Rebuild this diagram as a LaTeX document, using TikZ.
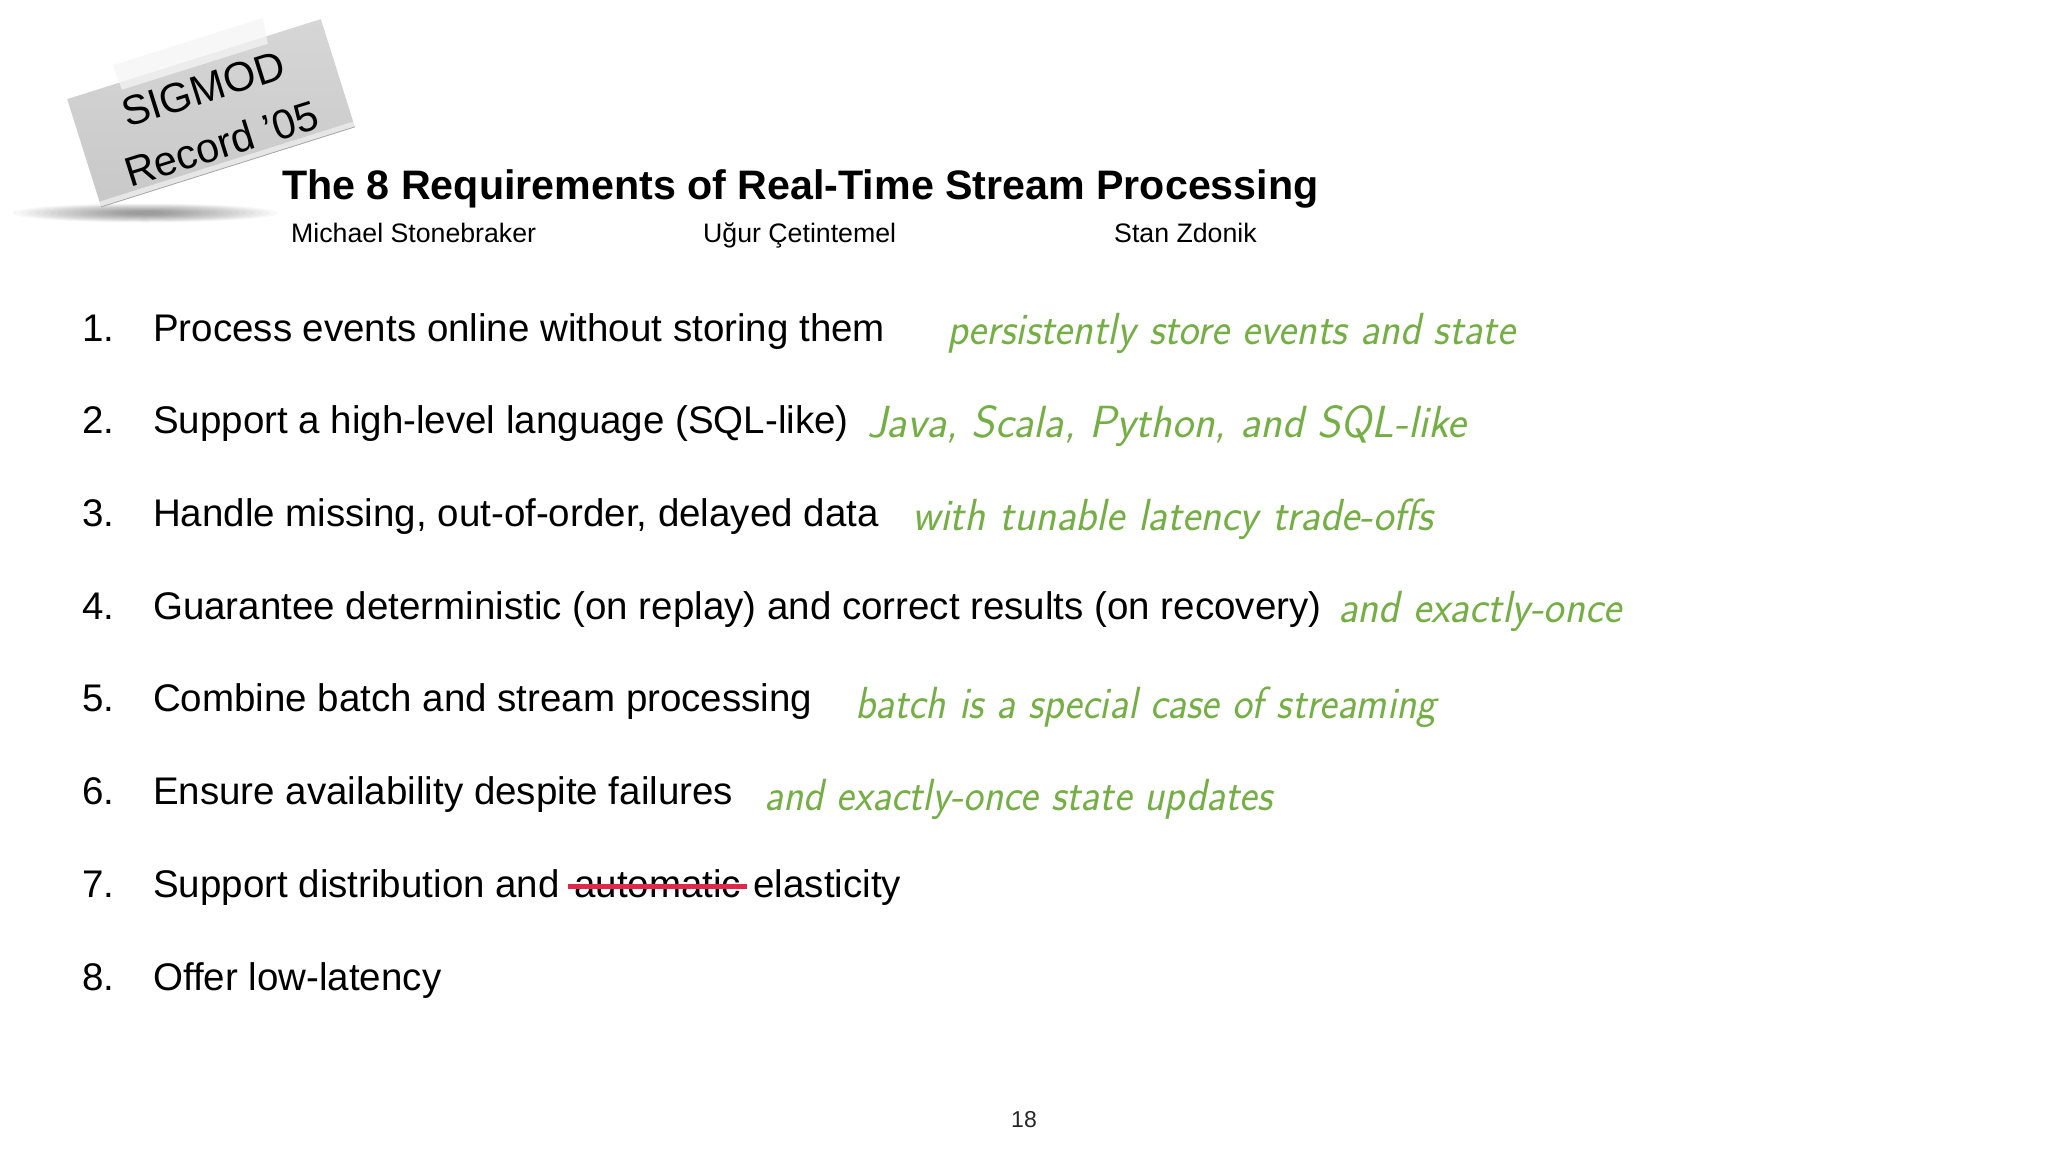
\documentclass[tikz,border=0pt]{standalone}
\usepackage{fontspec}
\setmainfont{Liberation Sans}
\usetikzlibrary{calc}
\definecolor{hand}{RGB}{116,174,68}
\definecolor{strikered}{RGB}{224,40,74}
\definecolor{tagtop}{RGB}{214,214,214}
\definecolor{tagbot}{RGB}{200,200,200}
\newcommand{\hw}[2]{\resizebox{#1pt}{\height}{\fontsize{45}{50}\sffamily\itshape #2}}
\tikzset{
  itemtext/.style={anchor=base west, inner sep=0pt, font=\fontsize{38.5}{46}\selectfont},
  numtext/.style={itemtext},
  notetext/.style={anchor=base west, inner sep=0pt, text=hand},
  authortext/.style={anchor=base west, inner sep=0pt, font=\fontsize{26.7}{32}\selectfont},
  tagtext/.style={anchor=base, inner sep=0pt, rotate=17.5, font=\fontsize{41.5}{48}\selectfont},
  strikeline/.style={strikered, line width=4.5pt}
}
\begin{document}
\begin{tikzpicture}[x=1pt, y=-1pt]
\fill[white] (0,0) rectangle (2048,1152);
\useasboundingbox (0,0) rectangle (2048,1152);

% soft shadow under the tag
\foreach \k in {1,...,16} {
  \fill[black, opacity=0.026] (145,213) ellipse [x radius={140-7.5*\k}, y radius={10-0.5*\k}];
}

% SIGMOD tag
\begin{scope}[shift={(211,113)}, rotate=17.5]
  \shade[top color=tagtop, bottom color=tagbot] (-133,-56.5) rectangle (133,56.5);
  \fill[white!55!tagbot] (-133,51) rectangle (133,56.5);
  \draw[gray!70, line width=0.8pt] (-133,56.5) -- (133,56.5);
  \fill[white!92!gray, opacity=0.75] (-79,-75) -- (78,-75) -- (75,-49) -- (-78,-49) -- cycle;
  \node[tagtext] (sig) at (0,-11) {SIGMOD};
  \node[tagtext] (rec) at (1,47) {Record ’05};
\end{scope}

% title and authors
\node[anchor=base west, inner sep=0pt, font=\bfseries\fontsize{41.2}{48}\selectfont] (title) at (282,199) {The 8 Requirements of Real-Time Stream Processing};
\node[authortext] (a1) at (291,242) {Michael Stonebraker};
\node[authortext] (a2) at (703,242) {Uğur Çetintemel};
\node[authortext] (a3) at (1114,242) {Stan Zdonik};

% numbered items
\node[numtext] (n1) at (82,341) {1.};
\node[numtext] (n2) at (82,433.7) {2.};
\node[numtext] (n3) at (82,526.4) {3.};
\node[numtext] (n4) at (82,619.1) {4.};
\node[numtext] (n5) at (82,711.9) {5.};
\node[numtext] (n6) at (82,804.6) {6.};
\node[numtext] (n7) at (82,897.3) {7.};
\node[numtext] (n8) at (82,990) {8.};

\node[itemtext] (i1) at (153,341) {Process events online without storing them};
\node[itemtext] (i2) at (153,433.7) {Support a high-level language (SQL-like)};
\node[itemtext] (i3) at (153,526.4) {Handle missing, out-of-order, delayed data};
\node[itemtext] (i4) at (153,619.1) {Guarantee deterministic (on replay) and correct results (on recovery)};
\node[itemtext] (i5) at (153,711.9) {Combine batch and stream processing};
\node[itemtext] (i6) at (153,804.6) {Ensure availability despite failures};
\node[itemtext] (i7a) at (153,897.3) {Support distribution and};
\node[itemtext] (i7b) at ($(i7a.base east)+(14,0)$) {automatic};
\node[itemtext] (i7c) at ($(i7b.base east)+(12,0)$) {elasticity};
\node[itemtext] (i8) at (153,990) {Offer low-latency};

\draw[strikeline] ($(i7b.base west)+(-6,-11)$) -- ($(i7b.base east)+(6,-11)$);

% handwritten notes
\node[notetext] (h1) at (947,344) {\hw{568}{persistently store events and state}};
\node[notetext] (h2) at (867,437) {\hw{599}{Java, Scala, Python, and SQL-like}};
\node[notetext] (h3) at (912,530) {\hw{521}{with tunable latency trade-offs}};
\node[notetext] (h4) at (1338,622) {\hw{283}{and exactly-once}};
\node[notetext] (h5) at (855,718) {\hw{581}{batch is a special case of streaming}};
\node[notetext] (h6) at (764,810) {\hw{508}{and exactly-once state updates}};

% page number
\node[anchor=base, inner sep=0pt, font=\fontsize{23}{28}\selectfont, text=black!85] (pg) at (1024,1127) {18};
\end{tikzpicture}
\end{document}
